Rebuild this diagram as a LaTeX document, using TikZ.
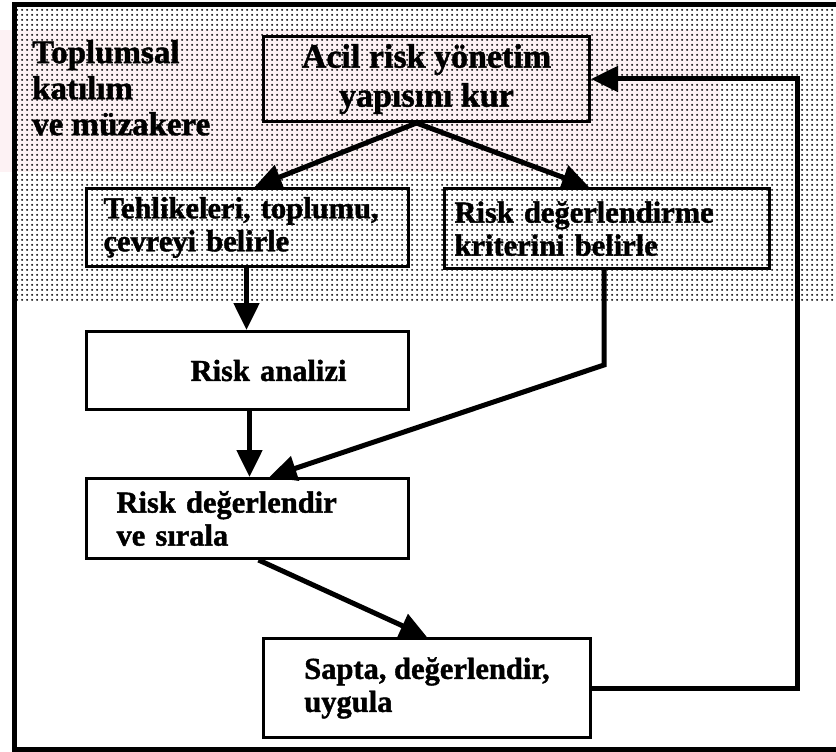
\documentclass[tikz,border=0pt]{standalone}
\usepackage{fontspec}
\setmainfont{Liberation Serif}[BoldFeatures={FakeBold=1.3}]
\usetikzlibrary{arrows.meta,calc,patterns.meta}

% halftone screen behind the upper part of the chart
\tikzdeclarepattern{
  name=halftone,
  type=uncolored,
  bounding box={(0pt,0pt) and (5pt,5pt)},
  tile size={(5pt,5pt)},
  code={\pgfpathcircle{\pgfpoint{2.5pt}{2.5pt}}{1.3pt}\pgfusepath{fill}}
}

\definecolor{wash}{RGB}{253,242,244}

\tikzset{
  flowbox/.style={draw, line width=3pt, anchor=north west, inner ysep=0pt,
    font=\bfseries\fontsize{30.5}{33}\selectfont},
  flow/.style={line width=5pt, -{Triangle[length=27pt,width=25pt]}},
  frame/.style={line width=5pt},
}

\begin{document}
\begin{tikzpicture}[x=1pt,y=-1pt]
\useasboundingbox (0,0) rectangle (836,752);

% faint tint under the participation area
\fill[wash] (0,30) rectangle (720,172);
\fill[pattern=halftone, pattern color=black!90] (14,5) rectangle (836,302);

% outer frame
\draw[frame] (840,5) -- (14,5) -- (14,749) -- (840,749);

% side heading
\node[anchor=north west, align=left, inner sep=0pt,
      font=\bfseries\fontsize{33}{36}\selectfont] (heading) at (32,40)
  {Toplumsal\\katılım\\ve müzakere};

% process steps
\node[flowbox, minimum width=326pt, minimum height=85pt, align=center,
      font=\bfseries\fontsize{34}{39}\selectfont] (acil) at (262,35)
  {Acil risk yönetim\\yapısını kur};
\node[flowbox, minimum width=322pt, minimum height=78pt, inner xsep=17pt,
      text width=288pt, align=left] (tehlike) at (85,187)
  {Tehlikeleri, toplumu,\\çevreyi belirle};
\node[flowbox, minimum width=325pt, minimum height=80pt, inner xsep=10pt,
      text width=305pt, align=left] (kriter) at (443,187)
  {Risk değerlendirme\\kriterini belirle};
\node[flowbox, minimum width=322pt, minimum height=78pt, inner xsep=62pt,
      text width=198pt, align=right] (analiz) at (85,330)
  {Risk analizi};
\node[flowbox, minimum width=322pt, minimum height=80pt, inner xsep=30pt,
      text width=262pt, align=left] (sirala) at (85,477)
  {Risk değerlendir\\ve sırala};
\node[flowbox, minimum width=327pt, minimum height=99pt, align=left] (sapta) at (262,637)
  {Sapta, değerlendir,\\uygula};

% turning point of the feedback loop
\coordinate (loop) at (797,0);

% connectors
\draw[flow] ($(acil.south)+(-10,0)$) -- ($(tehlike.north)+(7,0)$);
\draw[flow] ($(acil.south)+(-10,0)$) -- ($(kriter.north)+(-18,0)$);
\draw[flow] ($(tehlike.south)+(-1,0)$) -- ($(tehlike.south |- analiz.north)+(-1,0)$);
\draw[flow] ($(analiz.south)+(2,0)$) -- ($(analiz.south |- sirala.north)+(2,0)$);
\draw[flow, line join=miter] ($(kriter.south)+(-3,0)$) -- ++(0,95) -- ($(sirala.north)+(22,0)$);
\draw[flow] ($(sirala.south)+(11,0)$) -- (sapta.north);
\draw[flow, line join=miter] (sapta.east) -- (sapta.east -| loop) |- (acil.east);
\end{tikzpicture}
\end{document}
